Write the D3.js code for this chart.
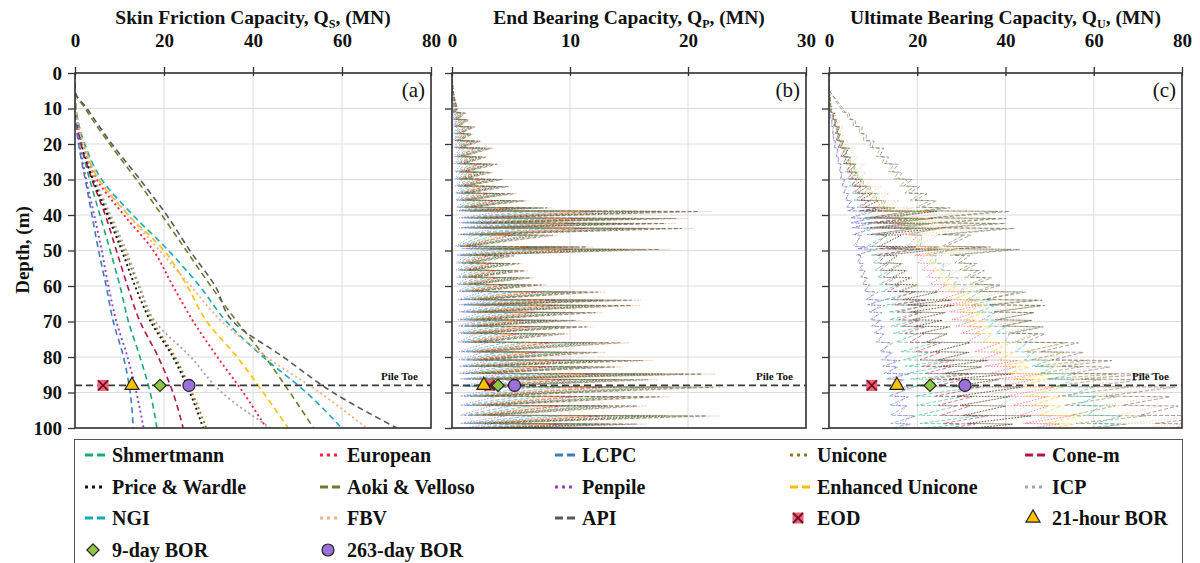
<!DOCTYPE html>
<html>
<head>
<meta charset="utf-8">
<script src="https://cdn.jsdelivr.net/npm/d3@7"></script>
<style>
body { margin: 0; background: #fff; }
svg text { font-family: "Liberation Serif", "Times New Roman", serif; font-weight: bold; fill: #111; }
</style>
</head>
<body>
<div id="chart-container"></div>
<script>
// pile capacity vs depth, three panels + legend underneath
const svgWidth = 1200;
const svgHeight = 563;

// methods, in legend order
const methods = ["Shmertmann", "European", "LCPC", "Unicone", "Cone-m",
    "Price & Wardle", "Aoki & Velloso", "Penpile", "Enhanced Unicone", "ICP",
    "NGI", "FBV", "API"];
const methodColors = ["#1aaa72", "#ff1f3d", "#3d7cc0", "#8c7a1e", "#b3173d",
    "#111111", "#6b7d2a", "#9444c4", "#ffc000", "#a6a6a6",
    "#16a7b8", "#f4b183", "#595959"];
const methodStyle = ["dash", "dot", "dash", "dot", "dash",
    "dot", "dash", "dot", "dash", "dot",
    "dash", "dot", "dash"];

// skin friction (MN) read at these depths (m)
const qsDepths = [0, 5, 10, 20, 30, 40, 50, 60, 70, 80, 90, 100];
const qsShmertmann = [0, 0, 0.1, 1.3, 3.3, 5.6, 7.9, 10.1, 12, 14.6, 16.9, 18.4];
const qsEuropean   = [0, 0, 0.2, 1.8, 4.9, 11, 17.6, 22, 26.6, 32, 37.8, 43];
const qsLCPC       = [0, 0, 0, 0.8, 2.3, 3.8, 5.3, 7, 8.6, 10.9, 12.4, 13.1];
const qsUnicone    = [0, 0, 0.1, 1.6, 4.2, 7.6, 11, 14.3, 17.5, 22.5, 26.3, 29.5];
const qsConeM      = [0, 0, 0.1, 1.4, 3.8, 6.8, 9.3, 11.8, 14.6, 18.7, 22, 24.3];
const qsPrice      = [0, 0, 0.1, 1.5, 4, 7.3, 10.5, 13.5, 17, 22, 25.8, 28.8];
const qsAoki       = [0, 0, 2.3, 7.8, 13.8, 19.5, 25, 30.5, 36.4, 42.7, 48.3, 53.6];
const qsPenpile    = [0, 0, 0, 1, 2.5, 4.3, 6, 7.5, 9.3, 11.8, 13.8, 15.4];
const qsEnhanced   = [0, 0, 0.2, 2, 5.3, 12, 20, 25.2, 29.6, 36.4, 42.3, 47.9];
const qsICP        = [0, 0, 0.1, 1.7, 4.5, 8, 11.5, 14.5, 18, 26, 33, 44];
const qsNGI        = [0, 0, 0.2, 2.2, 6, 13, 21, 28, 34, 42.3, 52, 59.9];
const qsFBV        = [0, 0, 0.2, 2, 5.5, 12, 19, 26, 33, 43, 55, 65.5];
const qsAPI        = [0, 0, 2.7, 8.3, 14.6, 20.6, 25.8, 31.5, 35.5, 46.8, 58, 72.3];
const qsValues = [qsShmertmann, qsEuropean, qsLCPC, qsUnicone, qsConeM,
    qsPrice, qsAoki, qsPenpile, qsEnhanced, qsICP, qsNGI, qsFBV, qsAPI];

const qpProfile = [
    [0, 0], [5, 0.1], [8, 0.3], [10, 0.5],
    [11, 0.3], [11.3, 1.2], [13, 0.5], [13.2, 1.5], [15, 0.6], [15.2, 2], [17, 0.8],
    [17.2, 1.8], [19, 0.7], [19.2, 2.5], [21, 0.9], [21.2, 3.5], [23.5, 1],
    [23.7, 3], [25.5, 1.1], [25.7, 4], [27.8, 1.2], [28, 3.5], [29.8, 1.2],
    [30, 4.5], [31.8, 1.3], [32, 5], [33.8, 1.4], [34, 5.5], [35.8, 1.5],
    [36, 6.5], [37.8, 1.8], [38, 8.5], [38.8, 2], [39, 22], [40.8, 3],
    [41, 20], [42.2, 3], [42.4, 19], [43.6, 3], [43.8, 20.5], [45.5, 2.5],
    [45.7, 9], [48.8, 1.5], [49, 12], [49.5, 4], [49.7, 18.5], [51.3, 2],
    [51.5, 5.5], [53.5, 1.8], [53.7, 6], [55.5, 1.8], [55.7, 6.5], [57.5, 2],
    [57.7, 7], [59.5, 2], [59.7, 8], [61.5, 2.2], [61.7, 13], [63.8, 2.5],
    [64, 16], [65.3, 3], [65.5, 16], [67.3, 3], [67.5, 12.8], [69.5, 2.5],
    [69.7, 11], [71.3, 2.5], [71.5, 12], [73.3, 2.5], [73.5, 10], [75.8, 2.5],
    [76, 15], [78.5, 3], [78.7, 13], [80.8, 3], [81, 17], [82.6, 3],
    [82.8, 14.5], [84.6, 3], [84.8, 22.3], [86.2, 3.5], [86.4, 17.5], [88.3, 3.5],
    [88.5, 23.3], [91, 3.5], [91.2, 18.5], [93.6, 3.5], [93.8, 16.5], [96.4, 3.5],
    [96.6, 22.7], [98.7, 3.5], [98.9, 16.5], [100, 5]
];
// how far each method's end bearing reaches relative to that trace
const qpRatio = [0.7, 0.6, 0.3, 0.75, 0.55, 0.8, 0.88, 0.2, 0.5, 0.45, 0.4, 1.0, 0.95];

// load tests at the pile toe
const testNames = ["EOD", "21-hour BOR", "9-day BOR", "263-day BOR"];
const testDepth = 88;
const testQs = [6.3, 12.8, 19.1, 25.6];
const testQp = [3.2, 2.7, 3.9, 5.3];
const testQu = [9.7, 15.4, 22.9, 30.8];
const testColors = ["#f0607a", "#ffc000", "#8dc63f", "#9b70d8"];

const depthTicks = d3.range(0, 101, 10);

const svg = d3.select("#chart-container")
    .append("svg")
    .attr("width", svgWidth)
    .attr("height", svgHeight);

const plotTop = 73, plotBottom = 428;
const y = d3.scaleLinear().domain([0, 100]).range([plotTop, plotBottom]);

// linear lookup of skin friction at any depth
function qsAt(vals, depth) {
    const i = d3.bisectRight(qsDepths, depth);
    if (i >= qsDepths.length) return vals[vals.length - 1];
    const d0 = qsDepths[i - 1], d1 = qsDepths[i];
    const t = (depth - d0) / (d1 - d0);
    return vals[i - 1] + t * (vals[i] - vals[i - 1]);
}

const panels = [
    { id: "a", title: "Skin Friction Capacity, Q", sub: "S", max: 80, ticks: [0, 20, 40, 60, 80], left: 75, right: 431, tests: testQs },
    { id: "b", title: "End Bearing Capacity, Q", sub: "P", max: 30, ticks: [0, 10, 20, 30], left: 452, right: 806, tests: testQp },
    { id: "c", title: "Ultimate Bearing Capacity, Q", sub: "U", max: 80, ticks: [0, 20, 40, 60, 80], left: 829, right: 1182, tests: testQu }
];

function dashFor(style, thin) {
    if (style == "dash") return thin ? "4,2" : "6,4";
    return thin ? "1.5,1.5" : "2,3";
}

function drawMarker(g, i, cx, cy) {
    if (i == 3) {
        g.append("circle").attr("cx", cx).attr("cy", cy).attr("r", 6)
            .attr("fill", testColors[i]).attr("stroke", "#222").attr("stroke-width", 1.2);
        return;
    }
    if (i == 0) {
        // pink square with a dark cross over it
        g.append("rect").attr("x", cx - 5.5).attr("y", cy - 5.5)
            .attr("width", 11).attr("height", 11)
            .attr("fill", testColors[i]);
        g.append("path")
            .attr("d", `M${cx - 5},${cy - 5}L${cx + 5},${cy + 5}M${cx + 5},${cy - 5}L${cx - 5},${cy + 5}`)
            .attr("stroke", "#6a1424").attr("stroke-width", 1.8);
        return;
    }
    let sym, size, rot = 0;
    if (i == 1) { sym = d3.symbolTriangle; size = 85; }
    else { sym = d3.symbolSquare; size = 75; rot = 45; }
    g.append("path")
        .attr("d", d3.symbol(sym, size)())
        .attr("transform", `translate(${cx},${cy}) rotate(${rot})`)
        .attr("fill", testColors[i]).attr("stroke", "#222").attr("stroke-width", 1.2);
}

panels.forEach(function (p) {
    const x = d3.scaleLinear().domain([0, p.max]).range([p.left, p.right]);
    const g = svg.append("g").attr("class", "panel-" + p.id);

    g.append("clipPath").attr("id", "clip-" + p.id)
        .append("rect").attr("x", p.left).attr("y", plotTop)
        .attr("width", p.right - p.left).attr("height", plotBottom - plotTop);

    // grid
    g.selectAll(".gx").data(p.ticks).enter().append("line")
        .attr("x1", d => x(d)).attr("x2", d => x(d))
        .attr("y1", plotTop).attr("y2", plotBottom)
        .attr("stroke", "#dcdcdc");
    g.selectAll(".gy").data(depthTicks).enter().append("line")
        .attr("x1", p.left).attr("x2", p.right)
        .attr("y1", d => y(d)).attr("y2", d => y(d))
        .attr("stroke", "#dcdcdc");

    // the curves
    const lines = g.append("g").attr("clip-path", `url(#clip-${p.id})`);
    methods.forEach(function (m, k) {
        let pts, curve = d3.curveLinear;
        if (p.id == "a") {
            pts = qsDepths.map((d, j) => [qsValues[k][j], d]);
            curve = d3.curveMonotoneY;
        } else if (p.id == "b") {
            pts = qpProfile.map(d => [d[1] * qpRatio[k], d[0]]);
        } else {
            pts = qpProfile.map(d => [qsAt(qsValues[k], d[0]) + d[1] * qpRatio[k], d[0]]);
        }
        const line = d3.line().x(d => x(d[0])).y(d => y(d[1])).curve(curve);
        const thin = p.id != "a";
        lines.append("path")
            .datum(pts)
            .attr("d", line)
            .attr("fill", "none")
            .attr("stroke", methodColors[k])
            .attr("stroke-width", thin ? 0.9 : (methodStyle[k] == "dot" ? 1.9 : 1.6))
            .attr("stroke-opacity", thin ? 0.6 : 1)
            .attr("stroke-dasharray", dashFor(methodStyle[k], thin));
    });

    // pile toe
    g.append("line")
        .attr("x1", p.left).attr("x2", p.right)
        .attr("y1", y(testDepth)).attr("y2", y(testDepth))
        .attr("stroke", "#3a3a3a").attr("stroke-width", 1.6)
        .attr("stroke-dasharray", "7,4");
    g.append("text")
        .attr("x", p.right - 13).attr("y", y(testDepth) - 5)
        .attr("text-anchor", "end").style("font-size", "11px")
        .text("Pile Toe");

    // load test markers
    p.tests.forEach((v, i) => drawMarker(g, i, x(v), y(testDepth)));

    // frame
    g.append("rect")
        .attr("x", p.left).attr("y", plotTop)
        .attr("width", p.right - p.left).attr("height", plotBottom - plotTop)
        .attr("fill", "none").attr("stroke", "#333").attr("stroke-width", 1.6);

    // top axis
    const ax = g.append("g")
        .attr("transform", `translate(0,${plotTop})`)
        .call(d3.axisTop(x).tickValues(p.ticks).tickSize(6).tickSizeOuter(0).tickPadding(20));
    ax.select(".domain").remove();
    ax.selectAll(".tick line").attr("y1", 3).attr("stroke", "#333").attr("stroke-width", 1.3);
    ax.selectAll(".tick text").style("font-size", "19px").attr("fill", "#111");

    // left axis
    const ay = g.append("g")
        .attr("transform", `translate(${p.left},0)`)
        .call(d3.axisLeft(y).tickValues(depthTicks).tickSize(7).tickSizeOuter(0).tickPadding(6)
            .tickFormat(p.id == "a" ? d3.format("d") : ""));
    ay.select(".domain").remove();
    ay.selectAll(".tick line").attr("stroke", "#333").attr("stroke-width", 1.3);
    ay.selectAll(".tick text").style("font-size", "19px").attr("fill", "#111");

    // panel letter
    g.append("text")
        .attr("x", p.right - 6).attr("y", plotTop + 24)
        .attr("text-anchor", "end")
        .style("font-weight", "normal").style("font-size", "21px")
        .text(`(${p.id})`);

    // title with subscript
    const t = g.append("text")
        .attr("x", (p.left + p.right) / 2).attr("y", 24)
        .attr("text-anchor", "middle").style("font-size", "19.5px");
    t.append("tspan").text(p.title);
    t.append("tspan").attr("dy", 4).style("font-size", "12px").text(p.sub);
    t.append("tspan").attr("dy", -4).text(", (MN)");
});

svg.append("text")
    .attr("transform", "translate(22,250) rotate(-90)")
    .attr("text-anchor", "middle").attr("dy", "0.35em")
    .style("font-size", "19px")
    .text("Depth, (m)");

// legend
const legend = svg.append("g").attr("class", "legend");
legend.append("rect")
    .attr("x", 74.5).attr("y", 439.5).attr("width", 1108).attr("height", 140)
    .attr("fill", "none").attr("stroke", "#555").attr("stroke-width", 1);

const colSym = [85, 320, 555, 790, 1025];
const rowY = [455, 487, 518, 550];
const entries = methods.map((m, k) => ({ name: m, k: k, kind: "line" }))
    .concat(testNames.map((m, i) => ({ name: m, k: i, kind: "marker" })));

entries.forEach(function (e, n) {
    const cx = colSym[n % 5], cy = rowY[Math.floor(n / 5)];
    if (e.kind == "line") {
        legend.append("line")
            .attr("x1", cx).attr("x2", cx + 20)
            .attr("y1", cy).attr("y2", cy)
            .attr("stroke", methodColors[e.k]).attr("stroke-width", 3)
            .attr("stroke-dasharray", methodStyle[e.k] == "dash" ? "8,4" : "3,4");
    } else {
        drawMarker(legend, e.k, cx + 8, cy);
    }
    legend.append("text")
        .attr("x", cx + 27).attr("y", cy).attr("dy", "0.35em")
        .style("font-size", "20px")
        .text(e.name);
});
</script>
</body>
</html>
